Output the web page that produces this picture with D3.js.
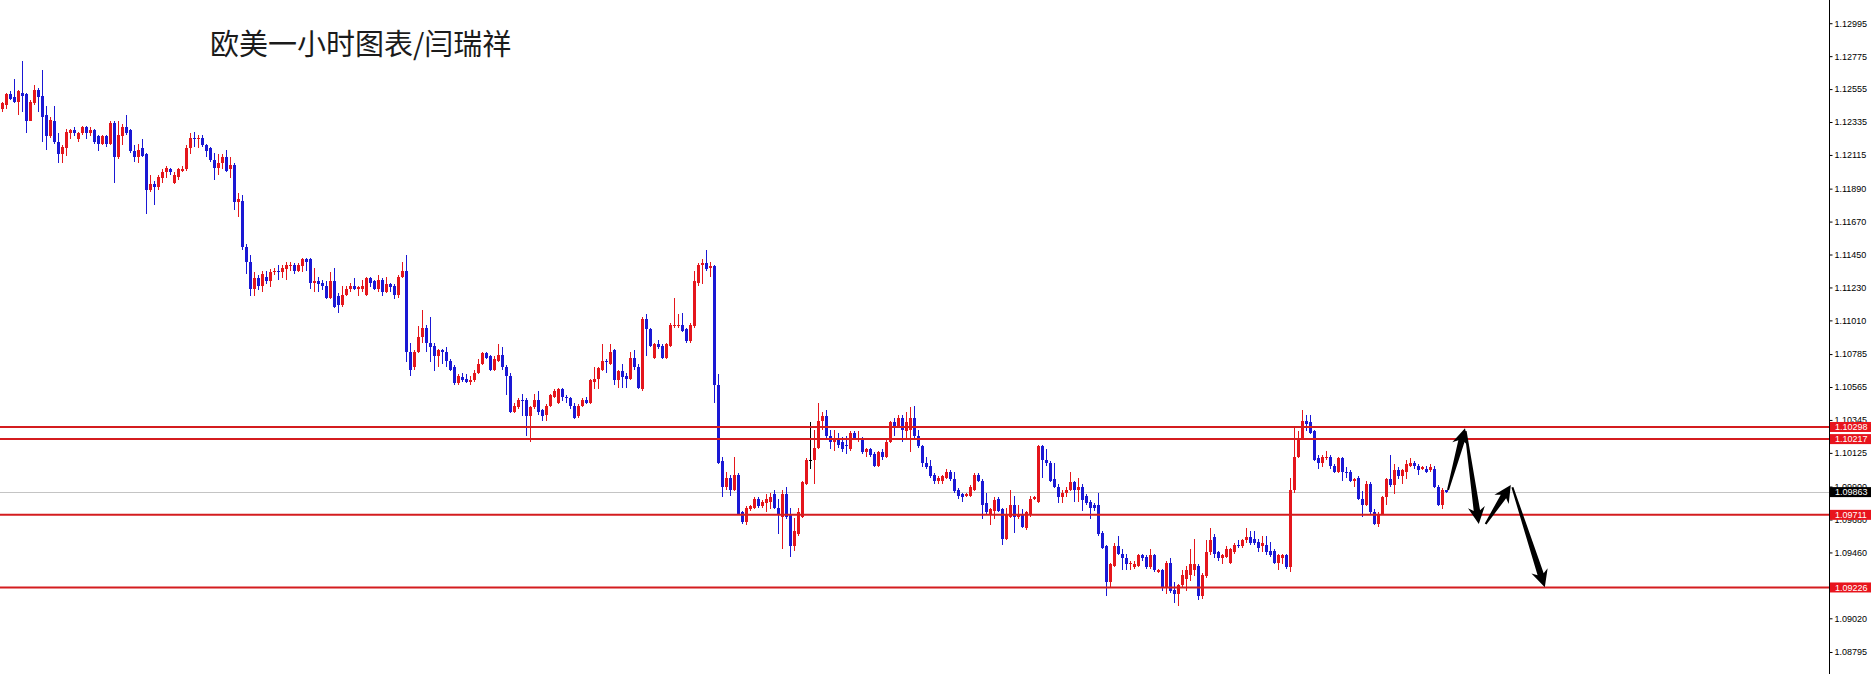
<!DOCTYPE html>
<html><head><meta charset="utf-8">
<script src="https://cdn.jsdelivr.net/npm/d3@7"></script>
<style>html,body{margin:0;padding:0;background:#fff;overflow:hidden}</style>
</head><body>
<svg id="chart" width="1874" height="674"></svg>
<script>
// ---- data (EURUSD H1 candles) ----
const openP = [
1.1242,1.1245,1.1252,1.1250,1.1247,1.1253,1.1252,1.1234,1.1246,1.1255,
1.1251,1.1238,1.1224,1.1234,1.1220,1.1212,1.1216,1.1226,1.1228,1.1222,
1.1226,1.1230,1.1226,1.1228,1.1224,1.1219,1.1224,1.1219,1.1233,1.1210,
1.1224,1.1230,1.1228,1.1214,1.1210,1.1216,1.1212,1.1188,1.1192,1.1190,
1.1196,1.1200,1.1202,1.1193,1.1197,1.1201,1.1202,1.1216,1.1223,1.1222,
1.1223,1.1218,1.1216,1.1208,1.1203,1.1206,1.1210,1.1202,1.1205,1.1180,
1.1181,1.1150,1.1140,1.1122,1.1129,1.1124,1.1130,1.1127,1.1133,1.1134,
1.1133,1.1135,1.1137,1.1138,1.1134,1.1137,1.1142,1.1142,1.1126,1.1127,
1.1126,1.1124,1.1116,1.1127,1.1117,1.1111,1.1118,1.1122,1.1124,1.1122,
1.1122,1.1118,1.1129,1.1127,1.1122,1.1128,1.1120,1.1125,1.1124,1.1118,
1.1130,1.1134,1.1080,1.1070,1.1080,1.1090,1.1096,1.1086,1.1084,1.1077,
1.1081,1.1080,1.1074,1.1070,1.1059,1.1063,1.1062,1.1060,1.1061,1.1066,
1.1072,1.1079,1.1077,1.1068,1.1074,1.1078,1.1070,1.1064,1.1040,1.1043,
1.1048,1.1048,1.1037,1.1043,1.1048,1.1041,1.1038,1.1044,1.1050,1.1046,
1.1055,1.1050,1.1049,1.1044,1.1037,1.1044,1.1048,1.1046,1.1060,1.1062,
1.1068,1.1074,1.1072,1.1081,1.1061,1.1067,1.1064,1.1062,1.1076,1.1070,
1.1055,1.1102,1.1095,1.1076,1.1085,1.1084,1.1076,1.1084,1.1097,1.1097,
1.1098,1.1095,1.1087,1.1097,1.1126,1.1138,1.1139,1.1136,1.1137,1.1058,
1.1007,1.0990,1.0996,1.0988,1.0998,1.0973,1.0966,1.0975,1.0976,1.0982,
1.0977,1.0979,1.0980,1.0985,1.0976,1.0970,1.0985,1.0972,1.0950,1.0958,
1.0970,1.0992,1.1008,1.1008,1.1016,1.1034,1.1037,1.1024,1.1020,1.1022,
1.1020,1.1018,1.1015,1.1026,1.1021,1.1022,1.1013,1.1015,1.1012,1.1004,
1.1013,1.1010,1.1020,1.1033,1.1030,1.1036,1.1027,1.1028,1.1036,1.1024,
1.1017,1.1006,1.1004,1.0998,1.0994,1.0994,1.0996,1.1000,1.0995,1.0988,
1.0985,1.0984,1.0984,1.0988,1.0998,1.0994,1.0979,1.0972,1.0974,1.0982,
1.0975,1.0955,1.0970,1.0978,1.0970,1.0971,1.0962,1.0971,1.0982,1.0980,
1.1017,1.1008,1.1006,1.0995,1.0990,1.0983,1.0986,1.0988,1.0993,1.0988,
1.0990,1.0984,1.0980,1.0978,1.0978,1.0959,1.0950,1.0926,1.0937,1.0950,
1.0945,1.0942,1.0938,1.0936,1.0937,1.0944,1.0943,1.0936,1.0944,1.0933,
1.0934,1.0922,1.0939,1.0921,1.0918,1.0924,1.0928,1.0931,1.0934,1.0937,
1.0917,1.0930,1.0946,1.0956,1.0946,1.0942,1.0943,1.0939,1.0946,1.0951,
1.0950,1.0954,1.0956,1.0955,1.0953,1.0950,1.0951,1.0947,1.0947,1.0939,
1.0942,1.0944,1.0936,1.0988,1.1010,1.1022,1.1034,1.1033,1.1027,1.1009,
1.1006,1.1009,1.1010,1.1004,1.1000,1.1009,1.1000,1.1000,1.0994,1.0996,
1.0982,1.0978,1.0992,1.0973,1.0965,1.0972,1.0983,1.0995,1.0991,1.1001,
1.0997,1.1000,1.1004,1.1006,1.1004,1.1002,1.1002,1.1001,1.1002,1.0990,
1.0978,1.09875];
const highP = [
1.1247,1.1253,1.1254,1.1262,1.1255,1.1274,1.1253,1.1248,1.1258,1.1256,
1.1268,1.1244,1.1237,1.1244,1.1226,1.1218,1.1229,1.1229,1.1230,1.1227,
1.1231,1.1231,1.1230,1.1229,1.1225,1.1225,1.1225,1.1234,1.1234,1.1234,
1.1232,1.1238,1.1229,1.1218,1.1219,1.1222,1.1213,1.1198,1.1194,1.1198,
1.1202,1.1204,1.1203,1.1200,1.1203,1.1204,1.1218,1.1226,1.1227,1.1225,
1.1225,1.1219,1.1217,1.1213,1.1212,1.1212,1.1215,1.1210,1.1206,1.1186,
1.1185,1.1152,1.1145,1.1133,1.1131,1.1134,1.1134,1.1135,1.1136,1.1138,
1.1138,1.1140,1.1140,1.1139,1.1139,1.1143,1.1143,1.1143,1.1136,1.1130,
1.1128,1.1127,1.1133,1.1136,1.1119,1.1124,1.1124,1.1126,1.1129,1.1124,
1.1128,1.1130,1.1130,1.1128,1.1131,1.1129,1.1130,1.1126,1.1125,1.1131,
1.1140,1.1145,1.1086,1.1081,1.1097,1.1108,1.1098,1.1103,1.1086,1.1082,
1.1082,1.1083,1.1075,1.1071,1.1065,1.1066,1.1065,1.1064,1.1068,1.1075,
1.1080,1.1080,1.1078,1.1077,1.1085,1.1083,1.1071,1.1066,1.1046,1.1049,
1.1052,1.1049,1.1044,1.1052,1.1054,1.1042,1.1045,1.1052,1.1055,1.1056,
1.1056,1.1051,1.1050,1.1046,1.1045,1.1049,1.1050,1.1062,1.1070,1.1070,
1.1085,1.1075,1.1085,1.1082,1.1068,1.1072,1.1066,1.1080,1.1081,1.1072,
1.1103,1.1105,1.1096,1.1086,1.1088,1.1085,1.1086,1.1099,1.1116,1.1105,
1.1106,1.1096,1.1099,1.1134,1.1139,1.1142,1.1148,1.1140,1.1138,1.1065,
1.1010,1.1000,1.0998,1.1010,1.0999,1.0974,1.0977,1.0978,1.0983,1.0983,
1.0981,1.0985,1.0986,1.0988,1.0982,1.0988,1.0990,1.0976,1.0969,1.0976,
1.0994,1.1009,1.1033,1.1028,1.1046,1.1040,1.1041,1.1028,1.1028,1.1026,
1.1023,1.1024,1.1027,1.1027,1.1027,1.1023,1.1016,1.1016,1.1013,1.1014,
1.1015,1.1022,1.1034,1.1036,1.1038,1.1038,1.1040,1.1043,1.1044,1.1028,
1.1018,1.1010,1.1008,1.0999,1.0997,1.0998,1.1002,1.1001,1.1000,1.0989,
1.0986,1.0986,1.0991,1.0999,1.0999,1.0995,1.0986,1.0976,1.0983,1.0983,
1.0976,1.0976,1.0988,1.0984,1.0978,1.0975,1.0974,1.0984,1.0984,1.1018,
1.1018,1.1015,1.1007,1.1006,1.0992,1.0988,1.0990,1.1000,1.0994,1.0996,
1.0992,1.0985,1.0981,1.0979,1.0986,1.0960,1.0951,1.0939,1.0952,1.0957,
1.0948,1.0945,1.0940,1.0940,1.0945,1.0945,1.0944,1.0948,1.0945,1.0935,
1.0935,1.0940,1.0942,1.0926,1.0925,1.0934,1.0937,1.0948,1.0955,1.0938,
1.0932,1.0954,1.0962,1.0958,1.0947,1.0945,1.0950,1.0949,1.0952,1.0954,
1.0955,1.0962,1.0960,1.0960,1.0955,1.0957,1.0957,1.0953,1.0948,1.0945,
1.0945,1.0945,1.0996,1.1030,1.1027,1.1041,1.1038,1.1038,1.1028,1.1011,
1.1011,1.1014,1.1011,1.1005,1.1010,1.1010,1.1003,1.1001,1.0996,1.0997,
1.0987,1.0994,1.0993,1.0975,1.0973,1.0984,1.0996,1.1011,1.1005,1.1003,
1.1002,1.1008,1.1009,1.1007,1.1005,1.1004,1.1004,1.1005,1.1004,1.0991,
1.0989,1.0988];
const lowP = [
1.1240,1.1242,1.1248,1.1246,1.1238,1.1240,1.1226,1.1234,1.1245,1.1240,
1.1220,1.1215,1.1223,1.1219,1.1206,1.1206,1.1211,1.1222,1.1224,1.1220,
1.1225,1.1222,1.1224,1.1219,1.1214,1.1218,1.1217,1.1218,1.1193,1.1209,
1.1218,1.1225,1.1213,1.1207,1.1206,1.1210,1.1172,1.1187,1.1178,1.1188,
1.1193,1.1196,1.1198,1.1192,1.1195,1.1200,1.1201,1.1212,1.1217,1.1216,
1.1217,1.1210,1.1207,1.1195,1.1198,1.1202,1.1200,1.1196,1.1175,1.1170,
1.1148,1.1132,1.1117,1.1117,1.1121,1.1120,1.1125,1.1123,1.1131,1.1128,
1.1129,1.1128,1.1134,1.1132,1.1133,1.1133,1.1134,1.1122,1.1120,1.1120,
1.1121,1.1115,1.1115,1.1109,1.1106,1.1110,1.1117,1.1120,1.1121,1.1117,
1.1120,1.1117,1.1123,1.1121,1.1120,1.1117,1.1119,1.1120,1.1115,1.1116,
1.1129,1.1073,1.1064,1.1068,1.1079,1.1086,1.1080,1.1073,1.1067,1.1070,
1.1072,1.1070,1.1067,1.1058,1.1058,1.1060,1.1059,1.1058,1.1060,1.1065,
1.1071,1.1075,1.1067,1.1067,1.1073,1.1068,1.1051,1.1039,1.1039,1.1042,
1.1037,1.1024,1.1020,1.1042,1.1038,1.1034,1.1034,1.1043,1.1049,1.1045,
1.1047,1.1046,1.1042,1.1035,1.1036,1.1043,1.1045,1.1045,1.1055,1.1055,
1.1067,1.1066,1.1071,1.1058,1.1056,1.1056,1.1056,1.1061,1.1068,1.1055,
1.1054,1.1077,1.1083,1.1075,1.1082,1.1075,1.1075,1.1083,1.1096,1.1096,
1.1093,1.1086,1.1086,1.1096,1.1124,1.1125,1.1134,1.1130,1.1046,1.1005,
1.0983,1.0988,1.0984,1.0987,1.0971,1.0965,1.0964,1.0974,1.0975,1.0976,
1.0976,1.0973,1.0975,1.0975,1.0958,1.0948,1.0968,1.0943,1.0947,1.0957,
1.0969,1.0991,1.1002,1.0992,1.1015,1.1028,1.1022,1.1015,1.1014,1.1016,
1.1013,1.1012,1.1014,1.1021,1.1020,1.1012,1.1010,1.1010,1.1003,1.1003,
1.1008,1.1009,1.1019,1.1024,1.1029,1.1020,1.1022,1.1013,1.1022,1.1016,
1.1003,1.1002,1.0996,1.0992,1.0992,1.0992,1.0995,1.0994,1.0986,1.0982,
1.0980,1.0983,1.0983,1.0987,1.0993,1.0968,1.0971,1.0964,1.0968,1.0973,
1.0951,1.0954,1.0969,1.0959,1.0968,1.0962,1.0961,1.0970,1.0981,1.0979,
1.0996,1.1004,1.0993,1.0989,1.0979,1.0979,1.0983,1.0987,1.0980,1.0980,
1.0974,1.0978,1.0968,1.0974,1.0957,1.0948,1.0917,1.0922,1.0936,1.0944,
1.0934,1.0934,1.0934,1.0935,1.0936,1.0940,1.0935,1.0935,1.0933,1.0932,
1.0920,1.0918,1.0919,1.0912,1.0910,1.0923,1.0920,1.0927,1.0930,1.0914,
1.0915,1.0929,1.0944,1.0942,1.0940,1.0938,1.0942,1.0938,1.0945,1.0949,
1.0949,1.0952,1.0951,1.0951,1.0946,1.0946,1.0944,1.0943,1.0938,1.0934,
1.0938,1.0935,1.0933,1.0986,1.1009,1.1021,1.1027,1.1025,1.1007,1.1002,
1.1003,1.1008,1.1002,1.0999,1.0999,1.0994,1.0996,1.0993,1.0990,1.0981,
1.0970,1.0977,1.0972,1.0964,1.0963,1.0971,1.0978,1.0990,1.0985,1.0995,
1.0992,1.0995,1.1003,1.1002,1.0998,1.1001,1.0999,1.1000,1.0989,1.0977,
1.0975,1.09855];
const closeP = [
1.1246,1.1252,1.1249,1.1247,1.1254,1.1251,1.1234,1.1247,1.1255,1.1250,
1.1237,1.1224,1.1235,1.1220,1.1212,1.1217,1.1227,1.1228,1.1226,1.1226,
1.1230,1.1226,1.1228,1.1220,1.1219,1.1224,1.1219,1.1233,1.1210,1.1225,
1.1230,1.1226,1.1214,1.1210,1.1215,1.1211,1.1188,1.1192,1.1190,1.1197,
1.1200,1.1203,1.1200,1.1198,1.1202,1.1202,1.1216,1.1223,1.1222,1.1223,
1.1218,1.1214,1.1208,1.1203,1.1206,1.1210,1.1201,1.1205,1.1180,1.1182,
1.1150,1.1140,1.1122,1.1129,1.1124,1.1132,1.1127,1.1133,1.1134,1.1133,
1.1136,1.1138,1.1138,1.1134,1.1138,1.1142,1.1140,1.1126,1.1127,1.1125,
1.1124,1.1116,1.1127,1.1110,1.1111,1.1118,1.1122,1.1124,1.1122,1.1123,
1.1124,1.1129,1.1126,1.1122,1.1128,1.1120,1.1125,1.1123,1.1118,1.1130,
1.1134,1.1080,1.1068,1.1080,1.1090,1.1096,1.1086,1.1083,1.1077,1.1081,
1.1080,1.1074,1.1068,1.1059,1.1064,1.1061,1.1060,1.1061,1.1066,1.1072,
1.1079,1.1076,1.1068,1.1075,1.1078,1.1070,1.1064,1.1040,1.1044,1.1048,
1.1047,1.1037,1.1043,1.1048,1.1040,1.1037,1.1044,1.1051,1.1054,1.1055,
1.1050,1.1049,1.1044,1.1036,1.1044,1.1048,1.1046,1.1061,1.1062,1.1069,
1.1074,1.1073,1.1080,1.1061,1.1067,1.1063,1.1062,1.1076,1.1070,1.1056,
1.1102,1.1095,1.1084,1.1085,1.1083,1.1076,1.1085,1.1098,1.1098,1.1098,
1.1094,1.1087,1.1098,1.1127,1.1138,1.1139,1.1135,1.1137,1.1058,1.1006,
1.0990,1.0996,1.0988,1.0998,1.0972,1.0966,1.0976,1.0977,1.0982,1.0977,
1.0980,1.0982,1.0983,1.0976,1.0972,1.0985,1.0970,1.0950,1.0960,1.0973,
1.0993,1.1008,1.1008,1.1016,1.1034,1.1037,1.1024,1.1020,1.1022,1.1018,
1.1015,1.1017,1.1026,1.1022,1.1022,1.1013,1.1015,1.1011,1.1004,1.1013,
1.1010,1.1020,1.1033,1.1030,1.1036,1.1028,1.1033,1.1036,1.1024,1.1017,
1.1006,1.1003,1.0997,1.0994,1.0996,1.0997,1.1000,1.0995,1.0987,1.0984,
1.0983,1.0985,1.0990,1.0998,1.0994,1.0978,1.0973,1.0975,1.0981,1.0974,
1.0955,1.0972,1.0978,1.0970,1.0971,1.0963,1.0973,1.0982,1.0983,1.1017,
1.1008,1.1006,1.0994,1.0990,1.0983,1.0986,1.0988,1.0993,1.0988,1.0990,
1.0981,1.0979,1.0976,1.0976,1.0958,1.0949,1.0926,1.0938,1.0950,1.0945,
1.0942,1.0938,1.0939,1.0938,1.0944,1.0942,1.0936,1.0944,1.0934,1.0934,
1.0922,1.0939,1.0920,1.0918,1.0924,1.0931,1.0934,1.0938,1.0938,1.0917,
1.0931,1.0946,1.0954,1.0945,1.0942,1.0944,1.0948,1.0948,1.0951,1.0950,
1.0954,1.0956,1.0952,1.0952,1.0949,1.0952,1.0946,1.0944,1.0939,1.0944,
1.0944,1.0936,1.0988,1.1010,1.1022,1.1034,1.1032,1.1026,1.1008,1.1006,
1.1010,1.1010,1.1004,1.1000,1.1009,1.1000,1.0999,1.0994,1.0995,1.0982,
1.0978,1.0992,1.0973,1.0965,1.0972,1.0983,1.0995,1.0991,1.1001,1.0997,
1.1001,1.1005,1.1006,1.1004,1.1001,1.1003,1.1000,1.1003,1.0990,1.0978,
1.0988,1.09863];

const tickValues = [1.12995,1.12775,1.12555,1.12335,1.12115,1.11890,1.11670,1.11450,1.11230,1.11010,
  1.10785,1.10565,1.10345,1.10125,1.09900,1.09680,1.09460,1.09240,1.09020,1.08795];
const levelLines = [1.10298, 1.10217, 1.09711, 1.09226];
const currentPrice = 1.09863;
const chartTitle = "欧美一小时图表/闫瑞祥";
// hand-drawn forecast arrows: [bar index, price] -> [bar index, price]
const arrowFrom = [[361.5,1.09877],[365.9,1.10270],[370.9,1.09650],[377.6,1.09895]];
const arrowTo   = [[365.75,1.10290],[369.2,1.09650],[377.2,1.09910],[385.7,1.09228]];

// ---- drawing ----
const W = 1874, H = 674;
const svg = d3.select("#chart");
const x = d3.scaleLinear().domain([0, 457]).range([2, 1830]);
const y = d3.scaleLinear().domain([1.08648, 1.13150]).range([H, 0]);
const axisX = 1829.5;
const upCol = "#e4161c", dnCol = "#1a18d4", lineRed = "#d41c1f";

svg.append("rect").attr("width", W).attr("height", H).attr("fill", "#fff");

// title
svg.append("text").attr("x", 210).attr("y", 54.5)
  .attr("font-family", "'Noto Sans CJK SC', sans-serif").attr("font-size", 29)
  .attr("fill", "#1b1b1b").text(chartTitle);

// current price (bid) line
svg.append("line").attr("x1", 0).attr("x2", axisX).attr("y1", Math.round(y(currentPrice)) + 0.5)
  .attr("y2", Math.round(y(currentPrice)) + 0.5).attr("stroke", "#c4c4c4").attr("stroke-width", 1);

// candles
const idx = d3.range(closeP.length);
const g = svg.append("g").attr("shape-rendering", "crispEdges");
const colOf = i => closeP[i] > openP[i] ? upCol : (closeP[i] < openP[i] ? dnCol : "#000");
g.selectAll("rect.wick").data(idx).join("rect").attr("class", "wick")
  .attr("x", i => Math.round(x(i)))
  .attr("width", 1)
  .attr("y", i => Math.round(y(Math.max(highP[i], openP[i], closeP[i]))))
  .attr("height", i => Math.max(1, Math.round(y(Math.min(lowP[i], openP[i], closeP[i]))) - Math.round(y(Math.max(highP[i], openP[i], closeP[i])))))
  .attr("fill", colOf);
g.selectAll("rect.body").data(idx).join("rect").attr("class", "body")
  .attr("x", i => Math.round(x(i)) - 1)
  .attr("width", 3)
  .attr("y", i => Math.round(y(Math.max(openP[i], closeP[i]))))
  .attr("height", i => Math.max(1, Math.round(y(Math.min(openP[i], closeP[i]))) - Math.round(y(Math.max(openP[i], closeP[i])))))
  .attr("fill", colOf);

// horizontal support/resistance lines
svg.selectAll("line.lvl").data(levelLines).join("line").attr("class", "lvl")
  .attr("x1", 0).attr("x2", axisX).attr("y1", d => y(d)).attr("y2", d => y(d))
  .attr("stroke", lineRed).attr("stroke-width", 2);

// arrows
function arrowPoly(p0, p1) {
  const dx = p1[0] - p0[0], dy = p1[1] - p0[1], L = Math.hypot(dx, dy);
  const ux = dx / L, uy = dy / L, nx = -uy, ny = ux;
  const hl = 17, hw = 8.5, sw0 = 1.0, sw1 = 3.2;
  const bx = p1[0] - ux * hl, by = p1[1] - uy * hl;
  const nbx = bx + ux * 3.5, nby = by + uy * 3.5;
  const pts = [
    [p0[0] + nx * sw0, p0[1] + ny * sw0],
    [nbx + nx * sw1, nby + ny * sw1],
    [bx + nx * hw, by + ny * hw],
    [p1[0], p1[1]],
    [bx - nx * hw, by - ny * hw],
    [nbx - nx * sw1, nby - ny * sw1],
    [p0[0] - nx * sw0, p0[1] - ny * sw0]
  ];
  return pts.map(p => p.join(",")).join(" ");
}
svg.selectAll("polygon.arrow").data(d3.range(arrowFrom.length)).join("polygon").attr("class", "arrow")
  .attr("points", k => arrowPoly([x(arrowFrom[k][0]), y(arrowFrom[k][1])], [x(arrowTo[k][0]), y(arrowTo[k][1])]))
  .attr("fill", "#000");

// right price axis
svg.append("rect").attr("x", axisX + 0.5).attr("y", 0).attr("width", W - axisX).attr("height", H).attr("fill", "#fff");
const axis = d3.axisRight(y).tickValues(tickValues).tickFormat(d3.format(".5f")).tickSize(3).tickPadding(2);
const ag = svg.append("g").attr("transform", `translate(${axisX},0)`).call(axis);
ag.select(".domain").attr("d", `M0,0V${H}`).attr("stroke", "#000");
ag.selectAll(".tick line").attr("stroke", "#000");
ag.selectAll(".tick text").attr("font-family", "'Liberation Sans', Arial, sans-serif").attr("font-size", 9).attr("fill", "#000");

// price tags
const tags = levelLines.map(v => ({v, bg: "#e8141c"})).concat([{v: currentPrice, bg: "#000"}]);
const tg = svg.selectAll("g.tag").data(tags).join("g").attr("class", "tag");
tg.append("rect").attr("x", axisX + 0.5).attr("y", d => y(d.v) - 5).attr("width", 41).attr("height", 10)
  .attr("fill", d => d.bg);
tg.append("text").attr("x", axisX + 5.5).attr("y", d => y(d.v)).attr("dy", "0.35em")
  .attr("font-family", "'Liberation Sans', Arial, sans-serif").attr("font-size", 9).attr("fill", "#fff")
  .text(d => d.v.toFixed(5));
</script>
</body></html>
